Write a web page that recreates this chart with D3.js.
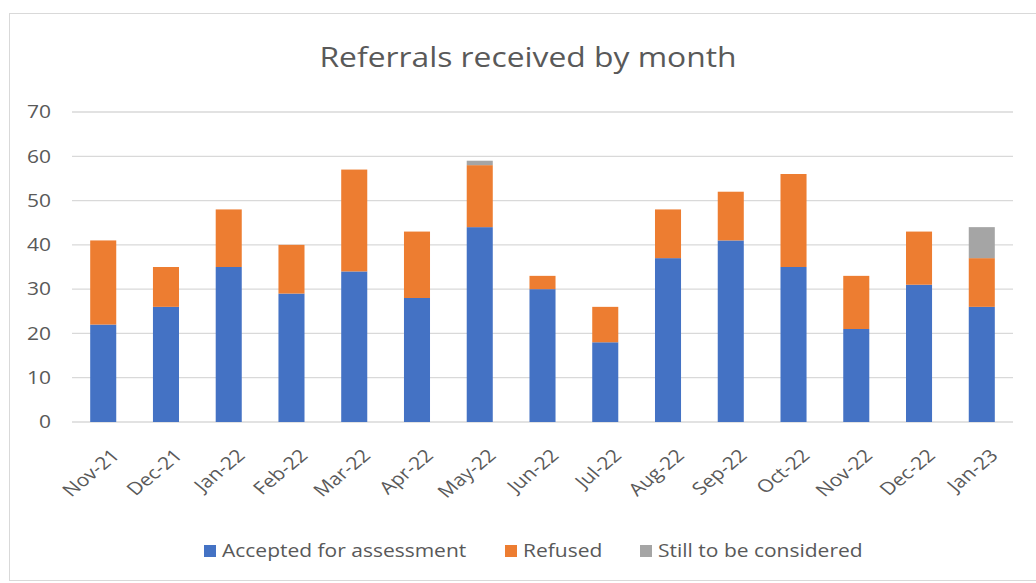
<!DOCTYPE html>
<html lang="en">
<head>
    <meta charset="UTF-8">
    <title>Referrals received by month</title>
    <style>
        body, html { margin: 0; padding: 0; background: #fff; overflow: hidden; }
        svg { display: block; font-family: "Open Sans", "Noto Sans", sans-serif; }
        text { fill: #595959; }
        .grid line { stroke: #d9d9d9; stroke-width: 1.3; }
    </style>
</head>
<body>
    <svg width="1036" height="583"></svg>

    <script src="https://d3js.org/d3.v7.min.js"></script>
    <script>
        const months = ["Nov-21", "Dec-21", "Jan-22", "Feb-22", "Mar-22", "Apr-22", "May-22", "Jun-22",
            "Jul-22", "Aug-22", "Sep-22", "Oct-22", "Nov-22", "Dec-22", "Jan-23"];
        const accepted = [22, 26, 35, 29, 34, 28, 44, 30, 18, 37, 41, 35, 21, 31, 26];
        const refused = [19, 9, 13, 11, 23, 15, 14, 3, 8, 11, 11, 21, 12, 12, 11];
        const stillToBeConsidered = [0, 0, 0, 0, 0, 0, 1, 0, 0, 0, 0, 0, 0, 0, 7];
        const yTicks = [0, 10, 20, 30, 40, 50, 60, 70];

        const seriesNames = ["Accepted for assessment", "Refused", "Still to be considered"];
        const colors = ["#4472c4", "#ed7d31", "#a5a5a5"];

        // the source picture is stretched sideways, so text gets the same stretch
        const sx = 1.2;

        const svg = d3.select("svg");
        const margin = { top: 112, right: 23, bottom: 161, left: 72 };
        const width = 1036, height = 583;

        // chart border (Excel chart area)
        svg.append("rect")
            .attr("x", 9.5).attr("y", 13.5)
            .attr("width", 1040).attr("height", 567)
            .attr("fill", "none").attr("stroke", "#d9d9d9");

        svg.append("g")
            .attr("transform", `translate(528,67) scale(${sx},1)`)
            .append("text")
            .attr("text-anchor", "middle")
            .style("font-size", "26.5px")
            .text("Referrals received by month");

        const rows = months.map((m, i) => ({
            month: m,
            [seriesNames[0]]: accepted[i],
            [seriesNames[1]]: refused[i],
            [seriesNames[2]]: stillToBeConsidered[i]
        }));
        const stacked = d3.stack().keys(seriesNames)(rows);

        const x = d3.scaleBand()
            .domain(months)
            .range([margin.left, width - margin.right])
            .paddingInner(0.585)
            .paddingOuter(0.29);

        const y = d3.scaleLinear()
            .domain([0, 70])
            .range([height - margin.bottom, margin.top]);

        // gridlines
        svg.append("g")
            .attr("class", "grid")
            .selectAll("line")
            .data(yTicks)
            .enter().append("line")
            .attr("x1", margin.left).attr("x2", width - margin.right)
            .attr("y1", d => y(d)).attr("y2", d => y(d));

        // y axis labels
        svg.append("g")
            .selectAll("g")
            .data(yTicks)
            .enter().append("g")
            .attr("transform", d => `translate(51,${y(d)}) scale(${sx},1)`)
            .append("text")
            .attr("text-anchor", "end")
            .attr("dy", "0.36em")
            .style("font-size", "17.5px")
            .text(d => d);

        // bars
        svg.append("g")
            .selectAll("g")
            .data(stacked)
            .enter().append("g")
            .attr("fill", (d, i) => colors[i])
            .selectAll("rect")
            .data(d => d)
            .enter().append("rect")
            .attr("x", d => x(d.data.month))
            .attr("y", d => y(d[1]))
            .attr("width", x.bandwidth())
            .attr("height", d => y(d[0]) - y(d[1]));

        // x axis labels
        const y0 = y(0);
        svg.append("g")
            .selectAll("g")
            .data(months)
            .enter().append("g")
            .attr("transform", d => `translate(${x(d) + x.bandwidth() / 2 + 7},${y0 + 26}) scale(${sx},1) rotate(-45)`)
            .append("text")
            .attr("text-anchor", "end")
            .attr("dy", "0.7em")
            .style("font-size", "17.5px")
            .text(d => d);

        // legend
        const legendItems = [
            { name: seriesNames[0], x: 204 },
            { name: seriesNames[1], x: 505 },
            { name: seriesNames[2], x: 640 }
        ];
        const legend = svg.append("g")
            .selectAll("g")
            .data(legendItems)
            .enter().append("g")
            .attr("transform", d => `translate(${d.x},551)`);
        legend.append("rect")
            .attr("x", 0).attr("y", -6)
            .attr("width", 12).attr("height", 12)
            .attr("fill", (d, i) => colors[i]);
        legend.append("g")
            .attr("transform", `translate(18,0) scale(${sx},1)`)
            .append("text")
            .attr("dy", "0.36em")
            .style("font-size", "17.5px")
            .text(d => d.name);
    </script>
</body>
</html>
